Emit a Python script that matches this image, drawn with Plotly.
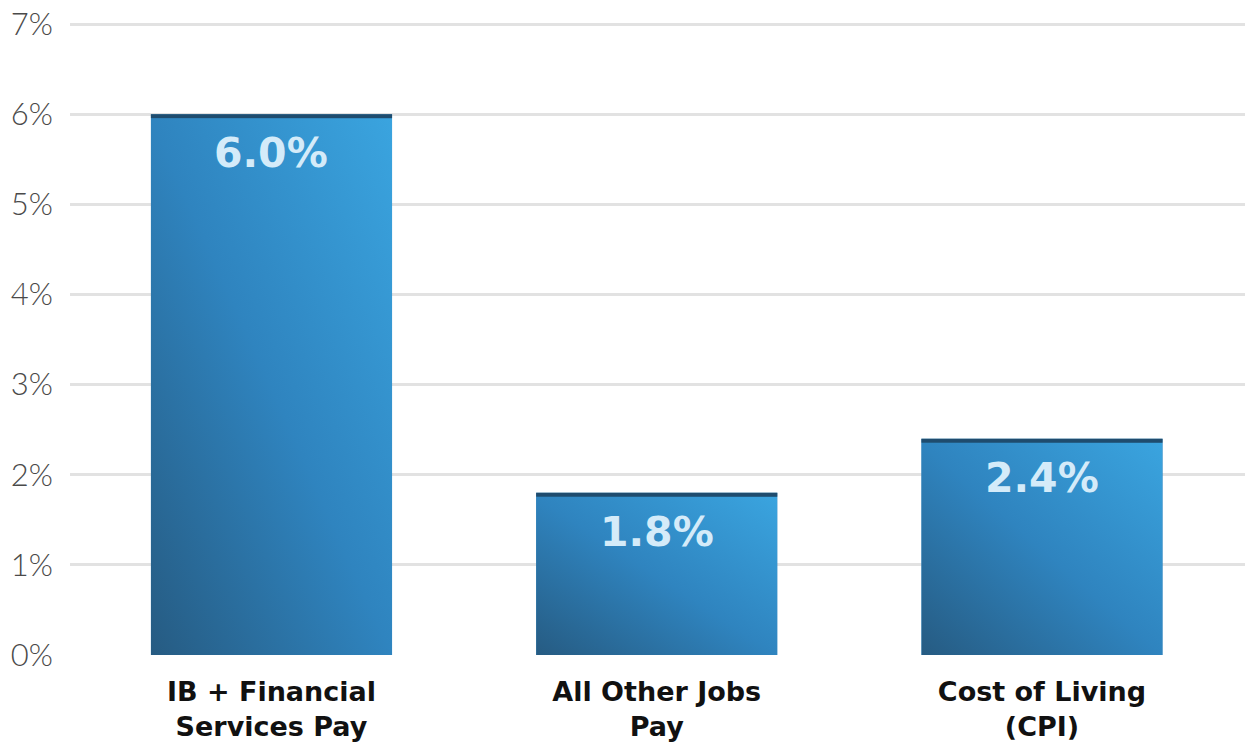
import base64
import plotly.graph_objects as go

# Annual growth, percent
categories = ["IB + Financial Services Pay", "All Other Jobs Pay", "Cost of Living (CPI)"]
tick_labels = ["IB + Financial<br>Services Pay", "All Other Jobs<br>Pay", "Cost of Living<br>(CPI)"]
values = [6.0, 1.8, 2.4]
value_labels = ["6.0%", "1.8%", "2.4%"]
y_ticks = [0, 1, 2, 3, 4, 5, 6, 7]
y_tick_labels = ["0%", "1%", "2%", "3%", "4%", "5%", "6%", "7%"]

BAR_W = 0.626
BAR_COLOR = "#2f82bb"
CAP_COLOR = "#1f4c6e"
CAP_FRAC = 0.045  # thickness of the dark top band, in axis units
Y_MAX = 7.045

# diagonal shading (dark lower-left -> light upper-right) laid over each bar
shade_svg = (
    '<svg xmlns="http://www.w3.org/2000/svg" width="100" height="100" '
    'viewBox="0 0 100 100" preserveAspectRatio="none">'
    '<defs><linearGradient id="g" x1="0" y1="1" x2="1" y2="0">'
    '<stop offset="0" stop-color="#265b82"/>'
    '<stop offset="0.5" stop-color="#2f84bf"/>'
    '<stop offset="1" stop-color="#3aa4df"/>'
    '</linearGradient></defs>'
    '<rect width="100" height="100" fill="url(#g)"/></svg>'
)
shade_src = "data:image/svg+xml;base64," + base64.b64encode(shade_svg.encode()).decode()

fig = go.Figure()
fig.add_trace(go.Bar(
    x=categories, y=values, width=BAR_W,
    marker=dict(color=BAR_COLOR, line=dict(width=0)),
    hoverinfo="skip", showlegend=False,
))

# dark band along the top of each bar
fig.add_trace(go.Bar(
    x=categories, y=[CAP_FRAC] * len(values),
    base=[v - CAP_FRAC for v in values],
    width=BAR_W, marker=dict(color=CAP_COLOR, line=dict(width=0)),
    hoverinfo="skip", showlegend=False,
))

for i, v in enumerate(values):
    fig.add_layout_image(
        source=shade_src, xref="x", yref="y",
        x=i - BAR_W / 2, y=v - CAP_FRAC, sizex=BAR_W, sizey=v - CAP_FRAC,
        xanchor="left", yanchor="top", sizing="stretch", layer="above",
    )

for cat, v, lab in zip(categories, values, value_labels):
    fig.add_annotation(
        x=cat, y=v, text=lab, showarrow=False, yanchor="top", yshift=-13,
        font=dict(family="DejaVu Sans", size=41, color="#d4ebf9", weight=700),
    )

fig.update_layout(
    barmode="overlay",
    width=1245, height=746,
    margin=dict(l=70, r=0, t=20, b=91, autoexpand=False),
    paper_bgcolor="white", plot_bgcolor="white",
    xaxis=dict(
        type="category", categoryorder="array", categoryarray=categories,
        tickvals=categories, ticktext=tick_labels, automargin=False,
        range=[-0.523, 2.527], showgrid=False, zeroline=False, showline=False,
        ticks="", ticklabelstandoff=18,
        tickfont=dict(family="DejaVu Sans", size=27, color="#111111", weight=700),
    ),
    yaxis=dict(
        range=[0, Y_MAX], tickvals=y_ticks, ticktext=y_tick_labels, automargin=False,
        showgrid=True, gridcolor="#e2e2e2", gridwidth=3,
        zeroline=False, showline=False, ticks="", ticklabelstandoff=16,
        tickfont=dict(family="Lato", size=31, color="#4a4a4a", weight=300),
    ),
)

fig.write_html("out.html")
